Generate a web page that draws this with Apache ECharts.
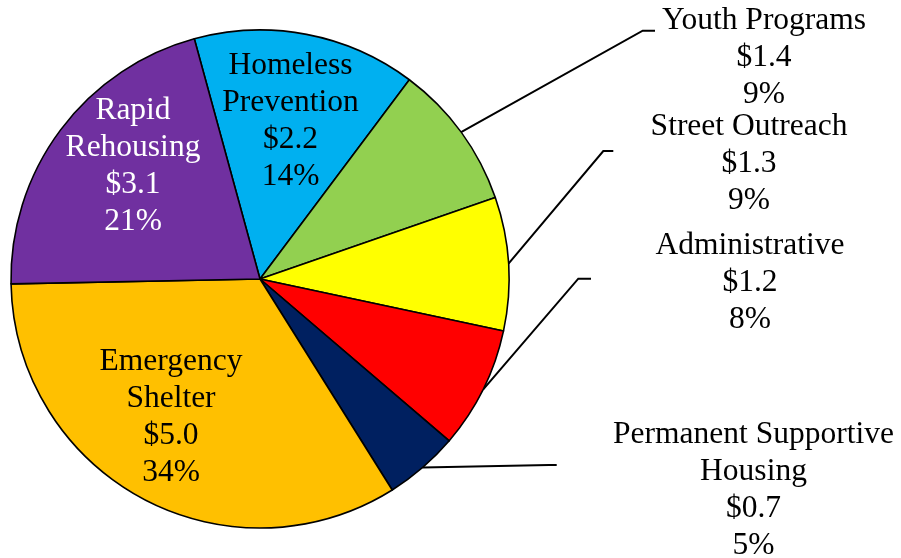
<!DOCTYPE html>
<html>
<head>
<meta charset="utf-8">
<script src="https://cdn.jsdelivr.net/npm/echarts@6/dist/echarts.min.js"></script>
<style>html,body{margin:0;padding:0;background:#fff}#c{width:901px;height:558px}</style>
</head>
<body>
<div id="c"></div>
<script>
// Data
const categories = ['Homeless Prevention', 'Youth Programs', 'Street Outreach', 'Administrative',
  'Permanent Supportive Housing', 'Emergency Shelter', 'Rapid Rehousing'];
const displayNames = ['Homeless\nPrevention', 'Youth Programs', 'Street Outreach', 'Administrative',
  'Permanent Supportive\nHousing', 'Emergency\nShelter', 'Rapid\nRehousing'];
const values = [2.16, 1.41, 1.29, 1.18, 0.72, 5.01, 3.14]; // $ millions
const colors = ['#00B0F0', '#92D050', '#FFFF00', '#FF0000', '#002060', '#FFC000', '#7030A0'];
const insideLabel = [true, false, false, false, false, true, true];
const labelColors = ['#000', '#000', '#000', '#000', '#000', '#000', '#fff'];

// Layout of labels: [centerX, centerY] and leader line [bendX, bendY, endX]
const labelPos = [[290.5, 121], [764, 57.5], [749, 163.5], [750, 283], [753.5, 490], [171, 417.5], [133, 166.5]];
const leader = [null, [642.7, 30.7, 655], [603.3, 151, 613.3], [578.3, 278.7, 591], [549, 465, 556.7], null, null];

const data = categories.map((c, i) => ({
  name: c,
  value: values[i],
  itemStyle: { color: colors[i] },
  label: { position: insideLabel[i] ? 'inside' : 'outside', color: labelColors[i] },
  labelLine: { show: !insideLabel[i] }
}));

const chart = echarts.init(document.getElementById('c'), null, { renderer: 'canvas' });
chart.setOption({
  animation: false,
  backgroundColor: '#fff',
  series: [{
    type: 'pie',
    center: [260, 279],
    radius: [0, 249],
    startAngle: 105.3,
    clockwise: true,
    avoidLabelOverlap: false,
    silent: true,
    itemStyle: { borderColor: '#000', borderWidth: 1.6 },
    label: {
      show: true,
      fontFamily: 'Liberation Serif',
      fontSize: 31.5,
      lineHeight: 37,
      align: 'center',
      formatter: p => displayNames[p.dataIndex] + '\n$' + p.value.toFixed(1) + '\n' + Math.round(p.percent) + '%'
    },
    labelLine: { show: true, length: 20, length2: 10, lineStyle: { color: '#000', width: 2 } },
    labelLayout: function (params) {
      const i = params.dataIndex;
      const pos = labelPos[i];
      const res = { x: pos[0], y: pos[1], align: 'center', verticalAlign: 'middle' };
      const L = leader[i];
      if (L && params.labelLinePoints) {
        const p0 = params.labelLinePoints[0];
        res.labelLinePoints = [p0, [L[0], L[1]], [L[2], L[1]]];
      }
      return res;
    },
    data: data
  }]
});
</script>
</body>
</html>
